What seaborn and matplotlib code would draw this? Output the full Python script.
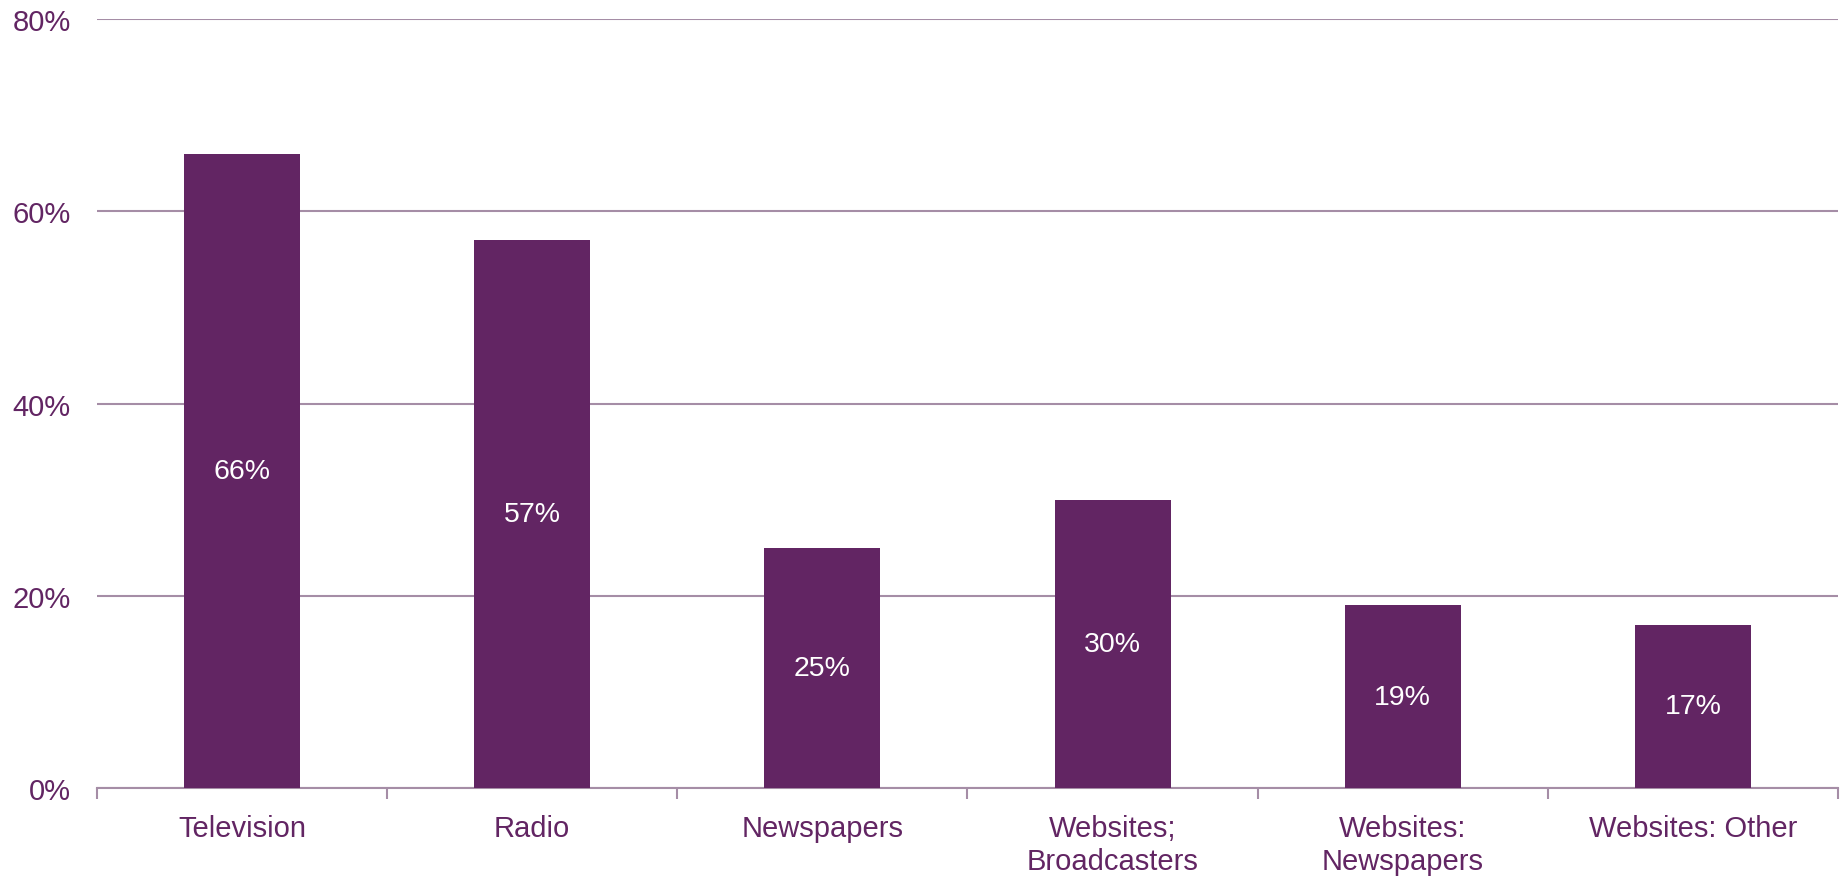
import matplotlib
matplotlib.use("Agg")
import matplotlib.pyplot as plt
import numpy as np
import pandas as pd
import seaborn as sns

categories = ["Television", "Radio", "Newspapers", "Websites;\nBroadcasters",
              "Websites:\nNewspapers", "Websites: Other"]
shares = [66, 57, 25, 30, 19, 17]
y_ticks = [0, 20, 40, 60, 80]

BAR = "#622563"
TEXT = "#622563"
GRID = "#A58DA6"

sns.set_style("white")
plt.rcParams["font.family"] = ["Liberation Sans", "DejaVu Sans"]

df = pd.DataFrame({"cat": categories, "share": shares})

fig = plt.figure(figsize=(18.47, 8.79), dpi=100)
# axes box: left 97px, right 1838px, bottom 789px, top 20px
ax = fig.add_axes([97 / 1847, 1 - 789 / 879, (1838 - 97) / 1847, (789 - 20) / 879])

sns.barplot(data=df, x="cat", y="share", color=BAR, width=0.4,
            saturation=1, linewidth=0, ax=ax, zorder=3)

for i, v in enumerate(shares):
    ax.text(i, v / 2, f"{v}%", ha="center", va="center", color="white",
            fontsize=20.5, zorder=4)

ax.set_ylim(0, 80)
ax.set_xlim(-0.5, len(categories) - 0.5)
ax.set_yticks(y_ticks)
ax.set_yticklabels([f"{t}%" for t in y_ticks])
ax.yaxis.grid(True, color=GRID, lw=1.5, zorder=0)
ax.set_axisbelow(True)

# category boundary ticks
ax.set_xticks(np.arange(-0.5, len(categories), 1), minor=True)
ax.tick_params(axis="x", which="minor", bottom=True, length=8, width=1.5,
               color=GRID, direction="out")
ax.tick_params(axis="x", which="major", bottom=True, length=0, pad=19,
               labelsize=21, labelcolor=TEXT)
ax.tick_params(axis="y", length=0, pad=19, labelsize=21, labelcolor=TEXT)

for s in ["top", "right", "left"]:
    ax.spines[s].set_visible(False)
ax.spines["bottom"].set_color(GRID)
ax.spines["bottom"].set_linewidth(1.5)

ax.set_xlabel("")
ax.set_ylabel("")

fig.savefig("out.png", dpi=100)
